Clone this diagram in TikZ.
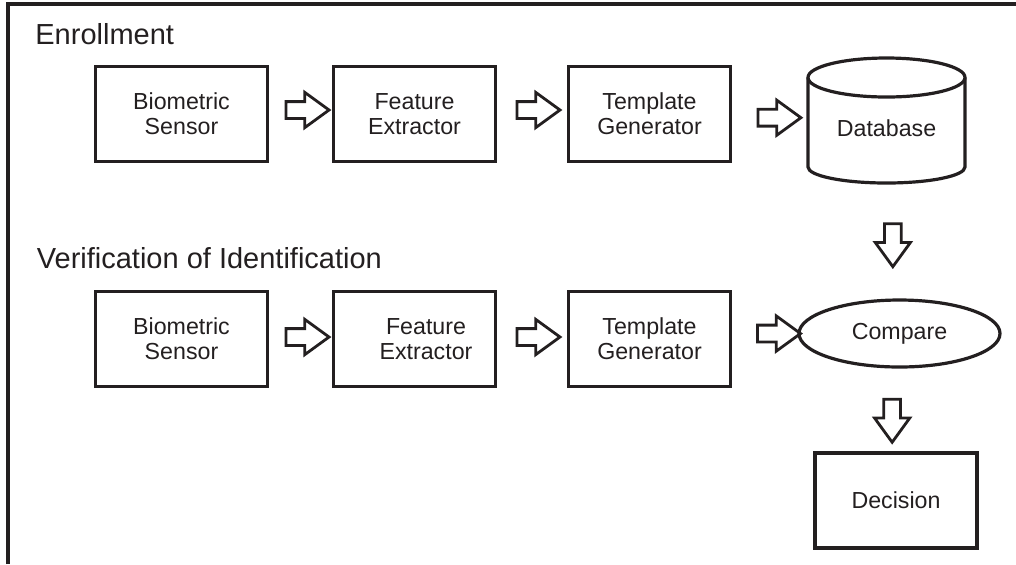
\documentclass[tikz,border=0pt]{standalone}
\usepackage{fontspec}
\setmainfont{Liberation Sans}
\usetikzlibrary{shapes.geometric,shapes.arrows}

\definecolor{ink}{RGB}{35,31,32}
\newcommand\stagefont{\fontsize{11.6pt}{12.5pt}\selectfont}
\tikzset{
  stage/.style={draw, line width=1.6pt, minimum width=81pt, minimum height=47.5pt, align=center, font=\stagefont},
  blockarr/.style={single arrow, draw, line width=1.4pt, inner sep=3.5pt, single arrow head extend=4.6pt, single arrow tip angle=72, minimum height=21.5pt},
  heading/.style={anchor=base west, inner sep=0pt, font=\fontsize{14.5pt}{17pt}\selectfont}
}

\begin{document}
\begin{tikzpicture}[x=0.5pt,y=-0.5pt,color=ink]
                \useasboundingbox (0,0) rectangle (1016,564);
                \draw[line width=1.6pt] (8,564) -- (8,4) -- (1016,4);
                \node[heading] (enr) at (35,44) {Enrollment};
                \node[heading] (ver) at (36.5,268) {Verification of Identification};
                % enrollment row
                \node[stage, minimum width=86pt] (bs1) at (181.5,114) {Biometric\\Sensor};
                \node[stage] (fe1) at (414.5,114) {Feature\\Extractor};
                \node[stage] (tg1) at (649.5,114) {Template\\Generator};
                \draw[line width=1.6pt] (808,77.5) -- (808,167) arc[start angle=180, end angle=0, x radius=78.5, y radius=16] -- (965,77.5);
                \draw[line width=1.6pt] (886.5,77.5) ellipse [x radius=78.5, y radius=19.5];
                \node[minimum width=78.5pt, minimum height=55pt, font=\stagefont] (db) at (886.5,128) {Database};
                \path (bs1.east) -- node[blockarr, pos=.52, yshift=2pt] (e1) {} (fe1.west);
                \path (fe1.east) -- node[blockarr, pos=.51, yshift=2pt] (e2) {} (tg1.west);
                \path (tg1.east) -- node[blockarr, pos=.55, yshift=2pt] (e3) {} (db.west);
                % verification row
                \node[stage, minimum width=86pt] (bs2) at (181.5,339) {Biometric\\Sensor};
                \node[stage] (fe2) at (414.5,339) {\hspace*{11.5pt}Feature\\\hspace*{11.5pt}Extractor};
                \node[stage] (tg2) at (649.5,339) {Template\\Generator};
                \node[draw, ellipse, line width=1.6pt, minimum width=100.5pt, minimum height=33.5pt, inner sep=0pt, font=\stagefont] (cmp) at (899.5,333.5) {Compare};
                \node[stage] (dec) at (896,500.5) {Decision};
                \path (bs2.east) -- node[blockarr, pos=.52, yshift=1pt] (v1) {} (fe2.west);
                \path (fe2.east) -- node[blockarr, pos=.51, yshift=1pt] (v2) {} (tg2.west);
                \path (tg2.east) -- node[blockarr, pos=.63, yshift=1pt] (v3) {} (cmp.west);
                \path (db.south) -- node[blockarr, pos=.487, shape border rotate=270] (d1) {} (cmp.north);
                \path (cmp.south) -- node[blockarr, pos=.56, xshift=-2.7pt, shape border rotate=270] (d2) {} (dec.north);
            \end{tikzpicture}
\end{document}
